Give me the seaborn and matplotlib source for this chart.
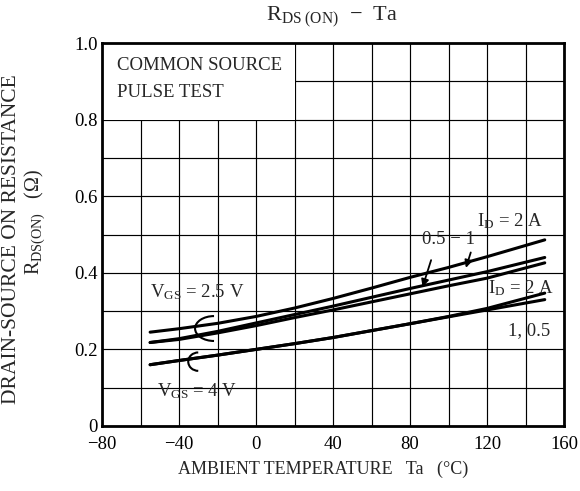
import matplotlib
matplotlib.use("Agg")
import matplotlib.pyplot as plt
from matplotlib.patches import Arc, Rectangle
import pandas as pd
import seaborn as sns

# Ambient temperature points (deg C)
ta = [-55, -40, -20, 0, 20, 40, 60, 80, 100, 120, 150]

# VGS = 2.5 V curves
r_25v_2a = [0.245, 0.254, 0.268, 0.286, 0.308, 0.333, 0.360, 0.388, 0.414, 0.442, 0.486]
r_25v_1a = [0.218, 0.228, 0.247, 0.269, 0.291, 0.313, 0.336, 0.359, 0.381, 0.403, 0.440]
r_25v_05a = [0.218, 0.226, 0.243, 0.262, 0.283, 0.303, 0.324, 0.345, 0.366, 0.386, 0.426]

# VGS = 4 V curves
r_4v_2a = [0.160, 0.171, 0.185, 0.200, 0.215, 0.231, 0.249, 0.267, 0.286, 0.307, 0.347]
r_4v_1a = [0.160, 0.171, 0.185, 0.200, 0.215, 0.231, 0.249, 0.267, 0.285, 0.303, 0.330]

x_ticks = [-80, -40, 0, 40, 80, 120, 160]
x_labels = ["\u221280", "\u221240", "0", "40", "80", "120", "160"]
y_ticks = [0, 0.2, 0.4, 0.6, 0.8, 1.0]
y_labels = ["0", "0.2", "0.4", "0.6", "0.8", "1.0"]

curves = {
    "2.5V_2A": r_25v_2a,
    "2.5V_1A": r_25v_1a,
    "2.5V_0.5A": r_25v_05a,
    "4V_2A": r_4v_2a,
    "4V_1A": r_4v_1a,
}
df = pd.concat(
    [pd.DataFrame({"Ta": ta, "R": vals, "curve": name}) for name, vals in curves.items()],
    ignore_index=True,
)

sns.set_style("white")
plt.rcParams["font.family"] = ["Liberation Serif", "DejaVu Serif"]
plt.rcParams["mathtext.fontset"] = "custom"
plt.rcParams["mathtext.rm"] = "Liberation Serif"
plt.rcParams["mathtext.it"] = "Liberation Serif:italic"

fig = plt.figure(figsize=(5.8, 4.91), dpi=100)
ax = fig.add_axes([102 / 580, 1 - 426 / 491, 462 / 580, 383 / 491])

sns.lineplot(data=df, x="Ta", y="R", units="curve", estimator=None,
             color="black", lw=2.2, ax=ax, zorder=3)

ax.set_xlim(-80, 160)
ax.set_ylim(0, 1.0)
ax.set_xticks(x_ticks)
ax.set_xticklabels(x_labels)
ax.set_yticks(y_ticks)
ax.set_yticklabels(y_labels)
ax.set_xticks(range(-80, 161, 20), minor=True)
ax.set_yticks([i / 10 for i in range(11)], minor=True)
ax.tick_params(which="both", length=0, labelsize=13.5, colors="black")
ax.tick_params(axis="x", pad=7)
ax.tick_params(axis="y", pad=3)

ax.set_axisbelow(True)
ax.grid(which="both", color="black", lw=0.85)
for sp in ax.spines.values():
    sp.set_color("black")
    sp.set_linewidth(2)

# white panel behind the test-condition note
ax.add_patch(Rectangle((-80, 0.8), 100, 0.2, facecolor="white", edgecolor="none", zorder=1))
ax.text(-72, 0.94, "COMMON SOURCE", fontsize=13.5, va="center", ha="left", zorder=4)
ax.text(-72, 0.871, "PULSE TEST", fontsize=13.5, va="center", ha="left", zorder=4)

# curve labels
ax.text(-55, 0.35, r"V$_{\mathrm{GS}}$ = 2.5 V", fontsize=13.5, va="center", ha="left")
ax.text(-51.5, 0.092, r"V$_{\mathrm{GS}}$ = 4 V", fontsize=13.5, va="center", ha="left")
ax.text(115, 0.536, r"I$_{\mathrm{D}}$ = 2 A", fontsize=13.5, va="center", ha="left")
ax.text(86, 0.487, "0.5 \u2212 1", fontsize=13.5, va="center", ha="left")
ax.text(120.5, 0.36, r"I$_{\mathrm{D}}$ = 2 A", fontsize=13.5, va="center", ha="left")
ax.text(131, 0.25, "1, 0.5", fontsize=13.5, va="center", ha="left")

arrow = dict(arrowstyle="-|>", color="black", lw=1.3, mutation_scale=11)
ax.annotate("", xy=(86.1, 0.356), xytext=(91.4, 0.44), arrowprops=arrow)
ax.annotate("", xy=(108.6, 0.406), xytext=(112, 0.46), arrowprops=arrow)

# grouping brackets
ax.add_patch(Arc((-21.8, 0.2545), 19.7, 0.065, theta1=90, theta2=270, color="black", lw=1.5))
ax.add_patch(Arc((-30, 0.168), 10.4, 0.048, theta1=90, theta2=270, color="black", lw=1.5))

ax.set_xlabel("AMBIENT TEMPERATURE   Ta   (\u00b0C)", fontsize=13, va="top")
ax.xaxis.set_label_coords(0.478, -0.09)
ax.set_ylabel("DRAIN-SOURCE ON RESISTANCE", fontsize=15.5, va="center")
ax.yaxis.set_label_coords(-0.195, 0.488)
ax.text(-0.145, 0.533, r"R$_{\mathrm{DS(ON)}}$   ($\Omega$)", fontsize=14.5, rotation=90,
        ha="center", va="center", transform=ax.transAxes)

fig.text(332 / 580, 1 - 17 / 491, r"R$_{\mathrm{DS\ (ON)}}$  $-$  Ta", fontsize=16,
         ha="center", va="center")

fig.savefig("out.png", dpi=100)
